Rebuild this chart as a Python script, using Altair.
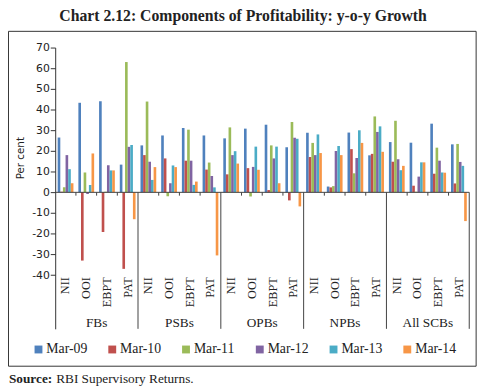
import altair as alt
import pandas as pd

groups = ["FBs", "PSBs", "OPBs", "NPBs", "All SCBs"]
components = ["NII", "OOI", "EBPT", "PAT"]
series = ["Mar-09", "Mar-10", "Mar-11", "Mar-12", "Mar-13", "Mar-14"]
colors = ["#4F81BD", "#C0504D", "#9BBB59", "#8064A2", "#4BACC6", "#F79646"]
y_ticks = [-40, -30, -20, -10, 0, 10, 20, 30, 40, 50, 60, 70]

# order: FBs NII, OOI, EBPT, PAT, PSBs ..., OPBs ..., NPBs ..., All SCBs ...
mar_09 = [26.5, 43.3, 44.1, 13.4, 22.7, 27.5, 31.1, 27.5, 26.1, 30.8, 32.7, 21.8, 28.8, 2.8, 28.9, 17.9, 24.3, 24.0, 33.2, 23.2]
mar_10 = [0.3, -33.0, -19.2, -37.0, 18.0, 16.4, 15.3, 11.0, 8.7, 11.7, 1.1, -3.9, 17.1, 2.4, 20.9, 18.6, 14.8, 3.2, 9.0, 4.3]
mar_11 = [2.4, 9.6, 0.3, 63.0, 43.9, -1.9, 30.3, 14.4, 31.4, -2.0, 22.7, 34.0, 23.9, 3.0, 9.2, 36.7, 34.6, 0.3, 21.6, 23.4]
mar_12 = [18.0, -0.8, 13.1, 22.0, 14.8, 4.4, 15.3, 7.9, 18.0, 12.3, 16.4, 26.4, 18.0, 20.0, 16.6, 29.2, 16.0, 7.6, 15.3, 14.7]
mar_13 = [11.2, 3.5, 10.6, 22.9, 6.0, 13.0, 3.6, 2.4, 19.9, 22.1, 22.1, 25.9, 28.0, 22.4, 30.0, 31.9, 10.7, 14.5, 9.6, 12.8]
mar_14 = [4.4, 18.8, 10.6, -13.0, 12.2, 12.2, 5.2, -30.5, 13.9, 10.9, 4.4, -6.8, 19.0, 18.0, 23.9, 19.6, 12.8, 14.5, 9.5, -13.9]

title_text = "Chart 2.12: Components of Profitability: y-o-y Growth"
source_bold = "Source:"
source_rest = "RBI Supervisory Returns."

all_series = [mar_09, mar_10, mar_11, mar_12, mar_13, mar_14]
cats = [f"{g}|{c}" for g in groups for c in components]

rows = []
for s, vals in zip(series, all_series):
    for cat, v in zip(cats, vals):
        rows.append({"cat": cat, "series": s, "value": v})
bars_df = pd.DataFrame(rows)

comp_df = pd.DataFrame({"cat": cats, "comp": [c for g in groups for c in components]})
group_mid_df = pd.DataFrame({"cat": [f"{g}|{components[1]}" for g in groups], "group": groups})
sep_df = pd.DataFrame({"cat": [f"{g}|{components[-1]}" for g in groups]})
tick_df = pd.DataFrame({"cat": [f"{g}|{c}" for g in groups for c in components[1:]]})
one = pd.DataFrame({"k": [0]})

W, H = 421, 286
YMIN, YMAX = -66, 70

xscale = alt.Scale(domain=cats, paddingInner=0, paddingOuter=0)
yscale = alt.Scale(domain=[YMIN, YMAX], nice=False, zero=False)
yaxis = alt.Axis(values=y_ticks, grid=False, title="Per cent",
                 labelExpr="'' + datum.value", labelOverlap=False,
                 labelFont="DejaVu Sans", labelFontSize=11, labelColor="#222",
                 domainColor="#333", tickColor="#333", tickSize=5, labelPadding=1,
                 titleFont="DejaVu Sans", titleFontSize=10.5, titleFontWeight="normal",
                 titleColor="#222", titleAngle=270, titleX=-35, titleY=112,
                 titleAlign="center", titleBaseline="middle")

def ydat(v):
    return alt.YDatum(v, type="quantitative", scale=yscale, axis=yaxis)

bars = alt.Chart(bars_df).mark_bar().encode(
    x=alt.X("cat:N", scale=xscale, axis=None, sort=cats),
    xOffset=alt.XOffset("series:N", scale=alt.Scale(domain=series, paddingInner=0, paddingOuter=0.94)),
    y=alt.Y("value:Q", scale=yscale, axis=yaxis),
    color=alt.Color("series:N", scale=alt.Scale(domain=series, range=colors),
                    legend=alt.Legend(title=None, orient="none", direction="horizontal",
                                      columns=6, legendX=-24, legendY=300, padding=0,
                                      symbolType="square", symbolSize=64, symbolStrokeWidth=0,
                                      labelFont="Liberation Serif", labelFontSize=14,
                                      labelColor="#222", labelOffset=1, columnPadding=18)),
)

zero_line = alt.Chart(one).mark_rule(color="#404040", strokeWidth=1).encode(y=ydat(0))

small_ticks = alt.Chart(tick_df).mark_rule(color="#404040", strokeWidth=1).encode(
    x=alt.X("cat:N", bandPosition=0), y=ydat(0), y2=alt.datum(-1.6))

separators = alt.Chart(sep_df).mark_rule(color="#404040", strokeWidth=1).encode(
    x=alt.X("cat:N", bandPosition=1), y=ydat(0), y2=alt.datum(YMIN))

comp_labels = alt.Chart(comp_df).mark_text(
    angle=270, align="right", baseline="middle", font="Liberation Serif", fontSize=12.5, color="#222"
).encode(x=alt.X("cat:N"), y=ydat(-41), text="comp:N")

group_labels = alt.Chart(group_mid_df).mark_text(
    align="center", baseline="alphabetic", font="Liberation Serif", fontSize=13.5, color="#222"
).encode(x=alt.X("cat:N", bandPosition=1), y=ydat(-65), text="group:N")

frame = alt.Chart(one).mark_rect(fill="transparent", stroke="#333", strokeWidth=1).encode(
    x=alt.value(-47.5), x2=alt.value(428), y=alt.value(-16.5), y2=alt.value(324))

title = alt.Chart(one).mark_text(
    align="center", baseline="alphabetic", font="Liberation Serif", fontSize=16,
    fontWeight="bold", color="#222"
).encode(x=alt.value(191), y=alt.value(-27), text=alt.value(title_text))

src1 = alt.Chart(one).mark_text(
    align="left", baseline="alphabetic", font="Liberation Serif", fontSize=13.5,
    fontWeight="bold", color="#222"
).encode(x=alt.value(-47), y=alt.value(341), text=alt.value(source_bold))

src2 = alt.Chart(one).mark_text(
    align="left", baseline="alphabetic", font="Liberation Serif", fontSize=13.5, color="#222"
).encode(x=alt.value(1), y=alt.value(341), text=alt.value(source_rest))

chart = alt.layer(
    bars, zero_line, small_ticks, separators, comp_labels, group_labels, frame, title, src1, src2
).properties(
    width=W, height=H,
    padding={"left": 48, "top": 37, "right": 15, "bottom": 61},
    autosize=alt.AutoSizeParams(type="none"),
).configure_view(stroke="transparent")

chart.save("out.html", embed_options={"renderer": "svg", "actions": False})
